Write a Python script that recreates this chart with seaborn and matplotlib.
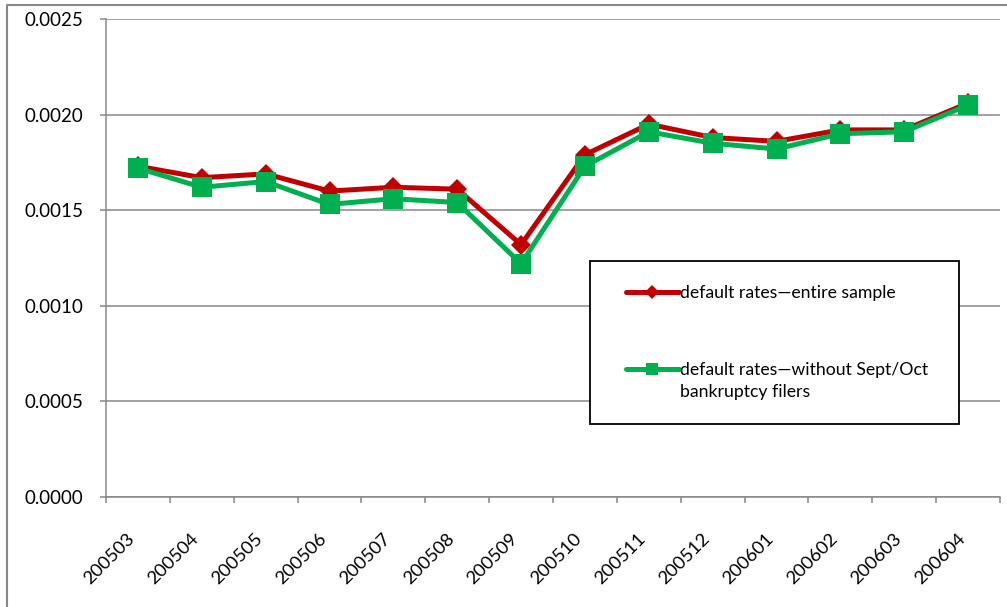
import matplotlib
matplotlib.use("Agg")
import matplotlib.pyplot as plt
import seaborn as sns
import pandas as pd
import numpy as np
from matplotlib.lines import Line2D
from matplotlib.legend_handler import HandlerLine2D
from matplotlib.ticker import FixedLocator, MultipleLocator, FormatStrFormatter

months = ["200503", "200504", "200505", "200506", "200507", "200508", "200509",
          "200510", "200511", "200512", "200601", "200602", "200603", "200604"]
entire_sample = [0.00173, 0.00167, 0.00169, 0.00160, 0.00162, 0.00161, 0.00132,
                 0.00179, 0.00195, 0.00188, 0.00186, 0.00192, 0.00192, 0.00206]
without_filers = [0.00172, 0.00162, 0.00165, 0.00153, 0.00156, 0.00154, 0.00122,
                  0.00173, 0.00191, 0.00185, 0.00182, 0.00190, 0.00191, 0.00205]
series_labels = ["default rates\u2014entire sample",
                 "default rates\u2014without Sept/Oct\nbankruptcy filers"]


class ShiftedHandler(HandlerLine2D):
    def __init__(self, dy=0.0, **kw):
        super().__init__(**kw)
        self.dy = dy

    def create_artists(self, legend, orig_handle, xdescent, ydescent, width, height,
                       fontsize, trans):
        arts = super().create_artists(legend, orig_handle, xdescent, ydescent, width,
                                      height, fontsize, trans)
        for a in arts:
            a.set_ydata(np.asarray(a.get_ydata(), dtype=float) + self.dy * fontsize)
        return arts


sns.set_theme(style="white")
plt.rcParams["font.family"] = ["Lato", "DejaVu Sans"]

W, H = 1007, 607
fig = plt.figure(figsize=(W / 100, H / 100), dpi=100)
ax = fig.add_axes([106 / W, 1 - 497 / H, 894 / W, 478 / H])

df1 = pd.DataFrame({"month": months, "rate": entire_sample})
df2 = pd.DataFrame({"month": months, "rate": without_filers})

grey = "#878787"
sns.lineplot(data=df1, x="month", y="rate", ax=ax, color="#C00000", linewidth=3.6,
             marker="D", markersize=10, markeredgewidth=0, sort=False,
             label=series_labels[0], zorder=3)
sns.lineplot(data=df2, x="month", y="rate", ax=ax, color="#00B050", linewidth=3.6,
             marker="s", markersize=14, markeredgewidth=0, sort=False,
             label=series_labels[1], zorder=4)

ax.set_xlim(-0.5, len(months) - 0.5)
ax.set_ylim(0, 0.0025)
ax.yaxis.set_major_locator(MultipleLocator(0.0005))
ax.yaxis.set_major_formatter(FormatStrFormatter("%.4f"))
ax.xaxis.set_major_locator(FixedLocator(range(len(months))))
ax.set_xticklabels(months)
ax.xaxis.set_minor_locator(FixedLocator([i - 0.5 for i in range(len(months) + 1)]))

ax.set_xlabel("")
ax.set_ylabel("")
ax.grid(axis="y", color=grey, linewidth=1.1)
ax.grid(axis="x", visible=False)
ax.set_axisbelow(True)
for s in ["top", "right"]:
    ax.spines[s].set_visible(False)
for s in ["left", "bottom"]:
    ax.spines[s].set_color(grey)
    ax.spines[s].set_linewidth(1.1)

ax.tick_params(axis="y", which="major", left=True, length=4.5, width=1.1, color=grey,
               direction="out", pad=12, labelsize=13.5, labelcolor="black")
ax.tick_params(axis="x", which="major", bottom=True, length=0, pad=24,
               labelsize=13.3, labelcolor="black")
ax.tick_params(axis="x", which="minor", bottom=True, length=4.5, width=1.1, color=grey,
               direction="out")
for lab in ax.get_xticklabels():
    lab.set_rotation(45)
    lab.set_ha("right")
    lab.set_va("top")

handles, labels = ax.get_legend_handles_labels()
leg = ax.legend(handles, labels, loc="upper left",
                bbox_to_anchor=(0.541, 0.153, 0.413, 0.341),
                mode="expand", frameon=True, fancybox=False, framealpha=1,
                edgecolor="black", fontsize=12.7, handlelength=3.7, handletextpad=0.1,
                borderpad=1.35, labelspacing=3.5, borderaxespad=0,
                handler_map={handles[0]: ShiftedHandler(dy=0.0, xpad=0.7),
                             handles[1]: ShiftedHandler(dy=0.72, xpad=0.7)})
leg.get_frame().set_linewidth(1.3)
for t in leg.get_texts():
    t.set_color("black")
    t.set_linespacing(1.45)
lh = leg.legend_handles
lh[0].set_markersize(7)
lh[1].set_markersize(9)

fig.add_artist(Line2D([7 / W, 7 / W, 1], [0, 1 - 5 / H, 1 - 5 / H],
                      transform=fig.transFigure, color=grey, linewidth=1.5))

fig.savefig("out.png", dpi=100)
